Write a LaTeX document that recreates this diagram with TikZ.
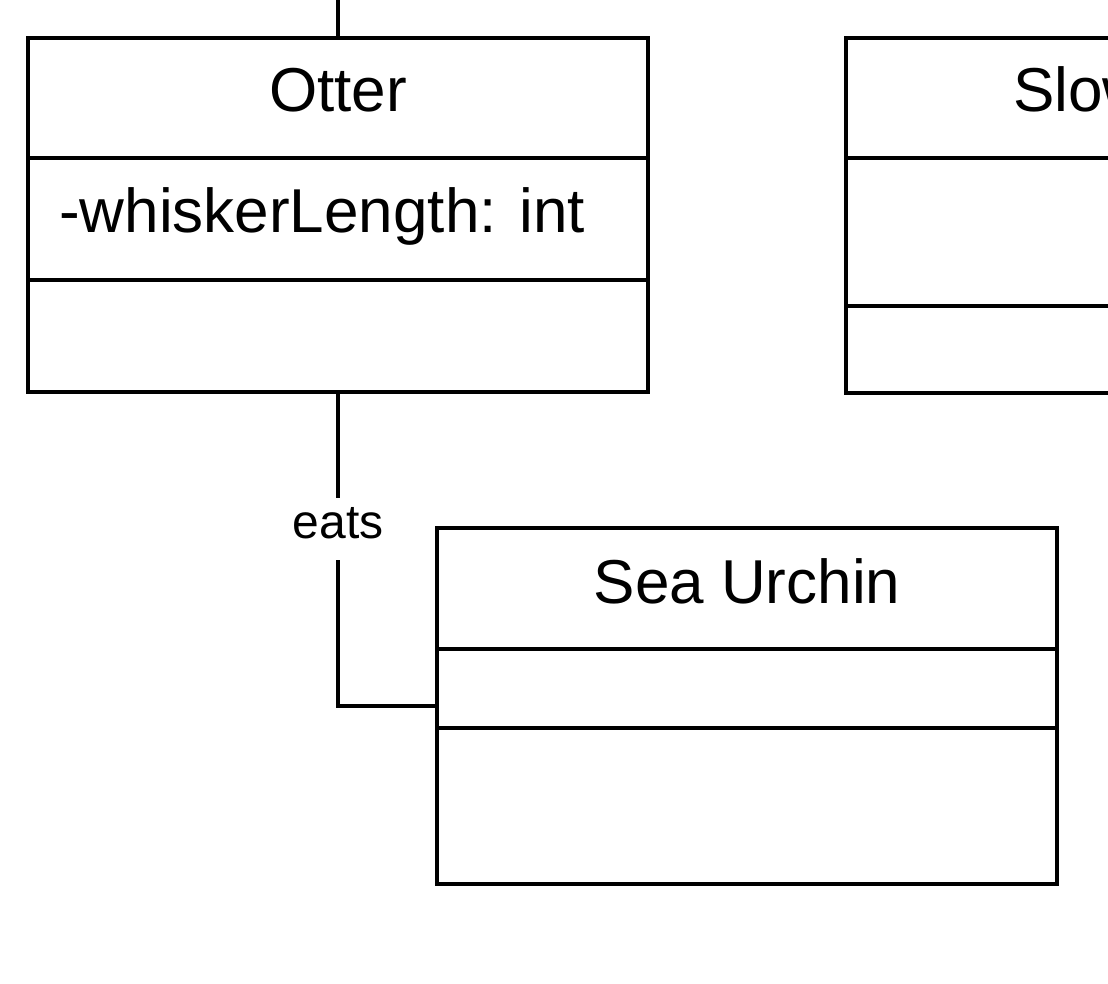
\documentclass[tikz,border=0pt]{standalone}
\usepackage{fontspec}
\setmainfont{Liberation Sans}
\begin{document}
\begin{tikzpicture}[x=1pt,y=-1pt,
  compartment/.style={draw=black, line width=4pt, minimum width=620pt,
    inner sep=0pt, outer sep=0pt, anchor=north west},
  classname/.style={font=\fontsize{62pt}{70pt}\selectfont, anchor=base, inner sep=0pt},
  member/.style={font=\fontsize{62pt}{70pt}\selectfont, anchor=base west, inner sep=0pt},
  assoc/.style={draw=black, line width=4pt},
  assoclabel/.style={font=\fontsize{48pt}{56pt}\selectfont, fill=white,
    inner xsep=2pt, inner ysep=0pt, text height=41pt, text depth=21pt}]
\useasboundingbox (0,0) rectangle (1108,984);
\clip (0,0) rectangle (1108,984);
\fill[white] (0,0) rectangle (1108,984);

% class Otter
\node[compartment, minimum height=120pt] (otter-name) at (28,38) {};
\node[compartment, minimum height=122pt] (otter-attr) at (28,158) {};
\node[compartment, minimum height=112pt] (otter-ops)  at (28,280) {};
\node[classname] (otter-title) at (338,112) {Otter};
\node[member] (otter-whisker) at (59,233) {-whiskerLength: int};

% class Slow Loris
\node[compartment, minimum height=120pt] (loris-name) at (846,38) {};
\node[compartment, minimum height=148pt] (loris-attr) at (846,158) {};
\node[compartment, minimum height=87pt]  (loris-ops)  at (846,306) {};
\node[classname] (loris-title) at (1156,112) {Slow Loris};

% class Sea Urchin
\node[compartment, minimum height=121pt] (urchin-name) at (437,528) {};
\node[compartment, minimum height=79pt]  (urchin-attr) at (437,649) {};
\node[compartment, minimum height=156pt] (urchin-ops)  at (437,728) {};
\node[classname] (urchin-title) at (747,603) {Sea Urchin};

% generalisation line leaving Otter upwards
\coordinate (otter-parent) at (338,-10);
\draw[assoc] (otter-name.north) -- (otter-parent);

% association Otter -- Sea Urchin
\coordinate (urchin-link) at ([yshift=22pt]urchin-attr.south west);
\draw[assoc] (otter-ops.south) |- node[assoclabel, pos=0.218] (eats) {eats} (urchin-link);
\end{tikzpicture}
\end{document}
